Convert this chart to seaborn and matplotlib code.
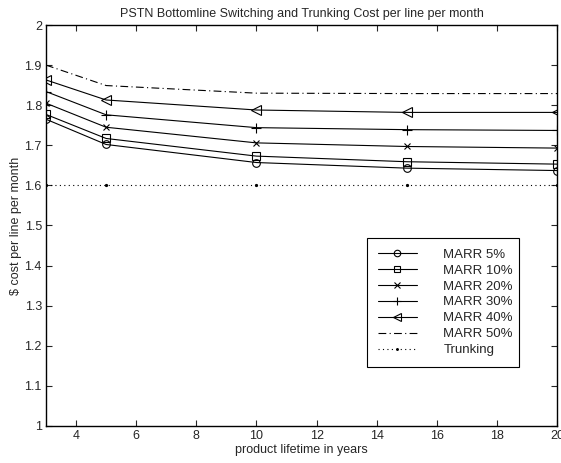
import numpy as np
import pandas as pd
import matplotlib
matplotlib.use("Agg")
import matplotlib.pyplot as plt
import seaborn as sns

# product lifetime in years
years = [3, 5, 10, 15, 20]

# cost per line per month
marr_5 = [1.765, 1.702, 1.657, 1.643, 1.637]
marr_10 = [1.777, 1.717, 1.673, 1.659, 1.653]
marr_20 = [1.805, 1.745, 1.706, 1.697, 1.693]
marr_30 = [1.834, 1.776, 1.744, 1.739, 1.737]
marr_40 = [1.863, 1.813, 1.788, 1.782, 1.782]
marr_50 = [1.900, 1.849, 1.830, 1.829, 1.829]
trunking = [1.6, 1.6, 1.6, 1.6, 1.6]

series_names = ["MARR 5%", "MARR 10%", "MARR 20%", "MARR 30%",
                "MARR 40%", "MARR 50%", "Trunking"]
series_values = [marr_5, marr_10, marr_20, marr_30, marr_40, marr_50, trunking]

x_ticks = [4, 6, 8, 10, 12, 14, 16, 18, 20]
y_ticks = [1, 1.1, 1.2, 1.3, 1.4, 1.5, 1.6, 1.7, 1.8, 1.9, 2]
y_tick_labels = ["1", "1.1", "1.2", "1.3", "1.4", "1.5", "1.6", "1.7", "1.8", "1.9", "2"]

sns.set_style("ticks")
plt.rcParams["font.family"] = ["Liberation Sans", "DejaVu Sans"]
plt.rcParams["font.size"] = 9

df = pd.DataFrame(
    [(y, v, name) for name, vals in zip(series_names, series_values) for y, v in zip(years, vals)],
    columns=["years", "cost", "series"],
)

# matlab-ish line/marker styles per series
styles = {
    "MARR 5%": dict(ls="-", marker="o", ms=5.5),
    "MARR 10%": dict(ls="-", marker="s", ms=5.5),
    "MARR 20%": dict(ls="-", marker="x", ms=4.5),
    "MARR 30%": dict(ls="-", marker="+", ms=7),
    "MARR 40%": dict(ls="-", marker="<", ms=7),
    "MARR 50%": dict(ls=(0, (7, 3, 1, 3)), marker=None, ms=0),
    "Trunking": dict(ls=(0, (1, 3)), marker=".", ms=3),
}

fig = plt.figure(figsize=(5.61, 4.63), dpi=100)
ax = fig.add_axes([0.082, 0.080, 0.911, 0.866])

for name in series_names:
    st = styles[name]
    sub = df[df["series"] == name]
    sns.lineplot(
        data=sub, x="years", y="cost", ax=ax, color="black", lw=0.8,
        linestyle=st["ls"], marker=st["marker"], markersize=st["ms"],
        markerfacecolor="none" if st["marker"] not in (".", "x", "+") else "black",
        markeredgecolor="black", markeredgewidth=0.8, label=name,
    )

ax.set_xlim(3, 20)
ax.set_ylim(1, 2)
ax.set_xticks(x_ticks)
ax.set_yticks(y_ticks)
ax.set_yticklabels(y_tick_labels)
ax.tick_params(direction="in", top=True, right=True, length=4, width=0.8, labelsize=9, pad=3)
for sp in ax.spines.values():
    sp.set_visible(True)
    sp.set_linewidth(1.0)
    sp.set_color("black")

ax.set_xlabel("product lifetime in years", fontsize=9, labelpad=1)
ax.set_ylabel("$ cost per line per month", fontsize=9, labelpad=2)
ax.set_title("PSTN Bottomline Switching and Trunking Cost per line per month", fontsize=9, pad=6)

leg = ax.legend(
    loc="upper left", bbox_to_anchor=(0.628, 0.147, 0.298, 0.322), mode="expand",
    frameon=True, fancybox=False, edgecolor="black", framealpha=1,
    handlelength=3.0, handletextpad=2.0, labelspacing=0.28, borderpad=0.8,
    borderaxespad=0, fontsize=9.5, markerscale=0.85,
)
leg.get_frame().set_linewidth(0.8)

fig.savefig("out.png", dpi=100)
